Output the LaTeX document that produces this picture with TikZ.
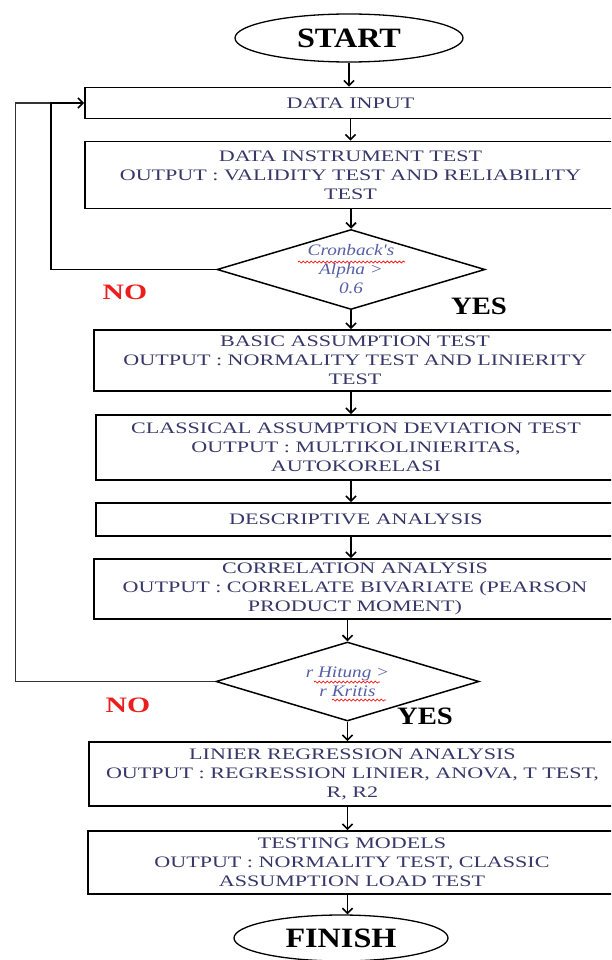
\documentclass[tikz,border=0pt]{standalone}
\usepackage{fontspec}
\setmainfont{Liberation Serif}
\newfontfamily\boxfont[FakeStretch=1.38]{Liberation Serif}
\newfontfamily\titlefont[FakeStretch=1.15]{Liberation Serif}
\newfontfamily\nofont[FakeStretch=1.35]{Liberation Serif}
\newfontfamily\dfont[FakeStretch=1.2]{Liberation Serif}
\usetikzlibrary{shapes.geometric,arrows.meta,decorations.pathmorphing}
\definecolor{boxtxt}{RGB}{55,55,105}
\definecolor{dtxt}{RGB}{85,95,165}
\definecolor{nored}{RGB}{235,30,30}
\begin{document}
\begin{tikzpicture}[x=1pt,y=-1pt,
  box/.style={draw=black,line width=1.8pt,rectangle,inner sep=0pt,align=center,
    font=\boxfont\fontsize{16}{19}\selectfont,text=boxtxt},
  term/.style={draw=black,line width=1.3pt,ellipse,inner sep=0pt,
    font=\titlefont\bfseries\fontsize{28}{30}\selectfont},
  dec/.style={draw=black,line width=1.5pt,diamond,inner sep=0pt},
  dtext/.style={align=center,inner sep=0pt,
    font=\dfont\itshape\fontsize{16}{19}\selectfont,text=dtxt},
  arr/.style={line width=1.6pt,-{Straight Barb[length=5pt,width=10pt]}},
  loopline/.style={line width=1.8pt,draw=black!80},
  wavy/.style={red,line width=0.7pt,decorate,decoration={snake,amplitude=1pt,segment length=4pt}},
  nolab/.style={inner sep=0pt,text=nored,font=\nofont\bfseries\fontsize{22}{24}\selectfont},
  yeslab/.style={inner sep=0pt,font=\titlefont\bfseries\fontsize{25}{27}\selectfont},
]
\useasboundingbox (0,0) rectangle (611,960);
\clip (0,0) rectangle (611,960);

\node[term, minimum width=228pt, minimum height=48pt] (start) at (349,38) {START};
\node[box, minimum width=531pt, minimum height=31pt] (input) at (350.5,103) {DATA INPUT};
\node[box, minimum width=531pt, minimum height=67pt] (instr) at (350.5,175)
  {DATA INSTRUMENT TEST\\OUTPUT : VALIDITY TEST AND RELIABILITY\\TEST};
\node[dec, minimum width=268pt, minimum height=80pt] (d1) at (351,269.5) {};
\node[dtext] (d1t) at (351,269) {Cronback's\\Alpha >\\0.6};
\node[box, minimum width=522pt, minimum height=61pt] (basic) at (355,360.5)
  {BASIC ASSUMPTION TEST\\OUTPUT : NORMALITY TEST AND LINIERITY\\TEST};
\node[box, minimum width=520pt, minimum height=65pt] (classic) at (356,447.5)
  {CLASSICAL ASSUMPTION DEVIATION TEST\\OUTPUT : MULTIKOLINIERITAS,\\AUTOKORELASI};
\node[box, minimum width=520pt, minimum height=33pt] (desc) at (356,519.5)
  {DESCRIPTIVE ANALYSIS};
\node[box, minimum width=522pt, minimum height=60pt] (corr) at (355,589)
  {CORRELATION ANALYSIS\\OUTPUT : CORRELATE BIVARIATE (PEARSON\\PRODUCT MOMENT)};
\node[dec, minimum width=263pt, minimum height=79pt] (d2) at (347.5,681.5) {};
\node[dtext] (d2t) at (347.5,681.5) {r Hitung >\\r Kritis};
\node[box, minimum width=527pt, minimum height=64pt] (lin) at (352.5,774)
  {LINIER REGRESSION ANALYSIS\\OUTPUT : REGRESSION LINIER, ANOVA, T TEST,\\R, R2};
\node[box, minimum width=528pt, minimum height=63pt] (tm) at (352,862.5)
  {TESTING MODELS\\OUTPUT : NORMALITY TEST, CLASSIC\\ASSUMPTION LOAD TEST};
\node[term, minimum width=214pt, minimum height=46pt] (fin) at (341,938) {FINISH};

% spell-check underlines
\draw[wavy] (298,262) -- (405,262);
\draw[wavy] (314,682) -- (380,682);
\draw[wavy] (332,700) -- (386,700);

% labels
\node[nolab] (no1) at (125,292) {NO};
\node[yeslab] (yes1) at (479,306) {YES};
\node[nolab] (no2) at (128,705) {NO};
\node[yeslab] (yes2) at (425,716) {YES};

% main flow
\draw[arr] (start.south) -- (start.south |- input.north);
\draw[arr] (input.south) -- (instr.north);
\draw[arr] (instr.south -| d1.north) -- (d1.north);
\draw[arr] (d1.south) -- (d1.south |- basic.north);
\draw[arr] (basic.south -| d1.south) -- (classic.north -| d1.south);
\draw[arr] (classic.south -| d1.south) -- (desc.north -| d1.south);
\draw[arr] (desc.south -| d1.south) -- (corr.north -| d1.south);
\draw[arr] (corr.south -| d2.north) -- (d2.north);
\draw[arr] (d2.south) -- (d2.south |- lin.north);
\draw[arr] (lin.south -| d2.south) -- (tm.north -| d2.south);
\draw[arr] (tm.south -| d2.south) -- (fin.north -| d2.south);

% feedback loops
\coordinate (k1) at (51,103);
\coordinate (k2) at (15.5,103);
\draw[loopline] (d2.west) -| (k2) -- (k1);
\draw[arr] (d1.west) -| (k1) -- (input.west);
\end{tikzpicture}
\end{document}
